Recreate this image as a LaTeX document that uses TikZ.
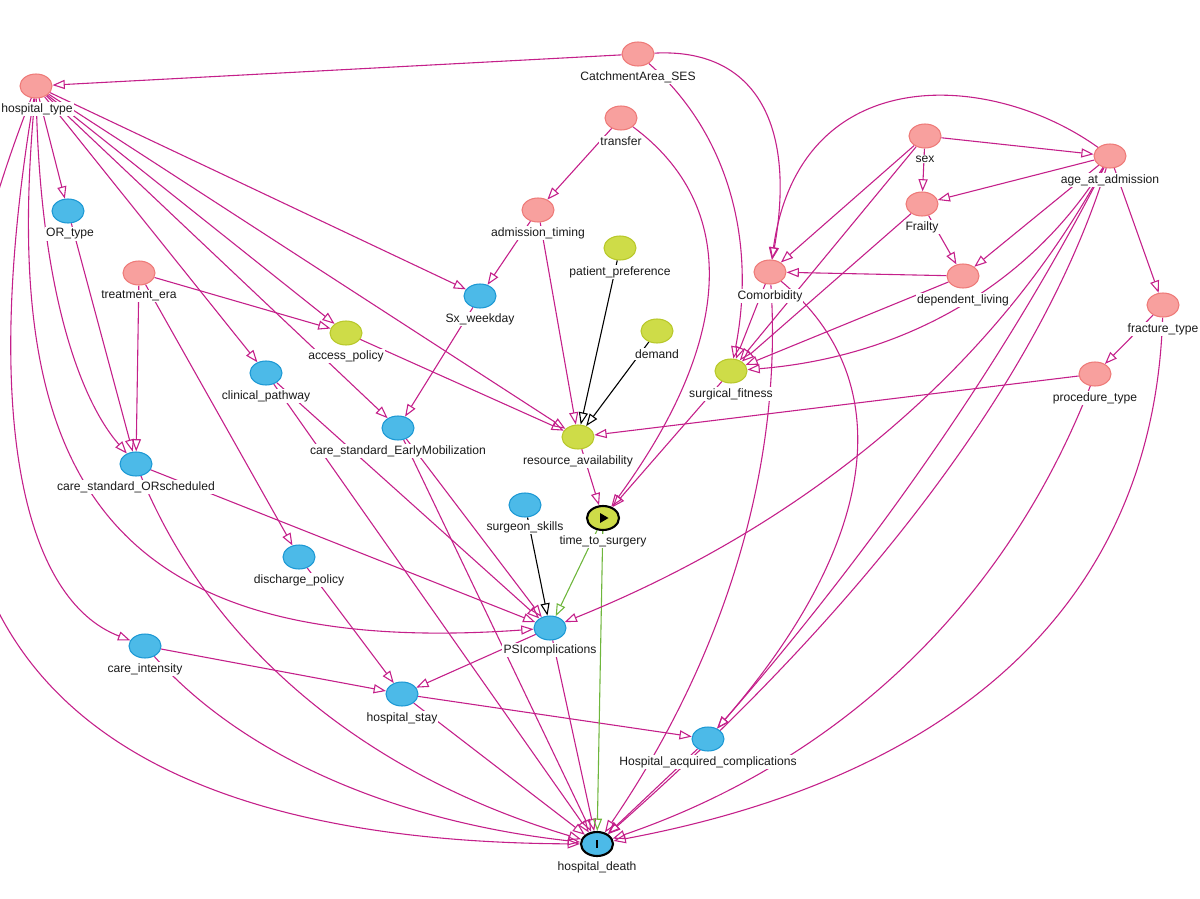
\documentclass[tikz,border=0pt]{standalone}
\usepackage{fontspec}
\setmainfont{Liberation Sans}
\usetikzlibrary{arrows.meta,shapes.geometric}
\definecolor{pinkfill}{RGB}{248,160,158}
\definecolor{pinkdraw}{RGB}{238,122,120}
\definecolor{bluefill}{RGB}{76,186,232}
\definecolor{bluedraw}{RGB}{28,152,212}
\definecolor{ygfill}{RGB}{206,220,72}
\definecolor{ygdraw}{RGB}{184,200,42}
\definecolor{edgemag}{RGB}{196,32,138}
\definecolor{edgegreen}{RGB}{110,182,60}
\definecolor{labtext}{RGB}{26,26,26}
\pgfdeclarelayer{edges}
\pgfsetlayers{edges,main}
\begin{document}
\begin{tikzpicture}[x=0.02cm,y=0.02cm,
  vnode/.style={ellipse,minimum width=0.64cm,minimum height=0.48cm,inner sep=0pt,line width=0.6pt},
  anc/.style={vnode,fill=pinkfill,draw=pinkdraw},
  med/.style={vnode,fill=bluefill,draw=bluedraw},
  oth/.style={vnode,fill=ygfill,draw=ygdraw},
  expo/.style={vnode,fill=ygfill,draw=black,line width=1.2pt},
  outc/.style={vnode,fill=bluefill,draw=black,line width=1.2pt},
  lab/.style={fill=white,inner sep=0.6pt,text=labtext,font=\fontsize{6.9}{8}\selectfont},
  e/.style={draw=edgemag,line width=0.62pt,-{Triangle[open,length=7pt,width=5.2pt]}},
  eb/.style={e,draw=black},
  eg/.style={e,draw=edgegreen},
]
\useasboundingbox (0,0) rectangle (1200,-899);

% nodes
\node[anc] (CA) at (638,-54) {};
\node[anc] (HT) at (36,-86) {};
\node[anc] (TR) at (621,-118) {};
\node[anc] (SEX) at (925,-136) {};
\node[anc] (AGE) at (1110,-156) {};
\node[anc] (FR) at (922,-204) {};
\node[med] (ORT) at (68,-211) {};
\node[anc] (AT) at (538,-210) {};
\node[oth] (PP) at (620,-248) {};
\node[anc] (DL) at (963,-276) {};
\node[anc] (CM) at (770,-272) {};
\node[anc] (TE) at (139,-273) {};
\node[med] (SW) at (480,-296) {};
\node[oth] (DE) at (657,-331) {};
\node[oth] (AP) at (346,-333) {};
\node[anc] (FT) at (1163,-305) {};
\node[oth] (SF) at (731,-371) {};
\node[med] (CP) at (266,-373) {};
\node[anc] (PT) at (1095,-374) {};
\node[med] (EM) at (398,-428) {};
\node[oth] (RA) at (578,-437) {};
\node[med] (OS) at (136,-464) {};
\node[med] (SS) at (525,-505) {};
\node[expo] (TTS) at (603,-518) {};
\node[med] (DP) at (299,-557) {};
\node[med] (PSI) at (550,-628) {};
\node[med] (CI) at (145,-646) {};
\node[med] (HS) at (402,-694) {};
\node[med] (HAC) at (708,-739) {};
\node[outc] (HD) at (597,-844) {};

% exposure / outcome marks
\fill[black] (600,-513) -- (600,-523) -- (608.5,-518) -- cycle;
\fill[black] (595.8,-840) rectangle (598.4,-848);

% labels
\node[lab] (lCA) at (638,-77) {CatchmentArea\_SES};
\node[lab] (lHT) at (37,-109) {hospital\_type};
\node[lab] (lTR) at (621,-141) {transfer};
\node[lab] (lSEX) at (925,-159) {sex};
\node[lab] (lAGE) at (1110,-180) {age\_at\_admission};
\node[lab] (lFR) at (922,-227) {Frailty};
\node[lab] (lORT) at (70,-234) {OR\_type};
\node[lab] (lAT) at (538,-233) {admission\_timing};
\node[lab] (lPP) at (620,-272) {patient\_preference};
\node[lab] (lDL) at (963,-300) {dependent\_living};
\node[lab] (lCM) at (770,-296) {Comorbidity};
\node[lab] (lTE) at (139,-296) {treatment\_era};
\node[lab] (lSW) at (480,-319) {Sx\_weekday};
\node[lab] (lDE) at (657,-354) {demand};
\node[lab] (lAP) at (346,-356) {access\_policy};
\node[lab] (lFT) at (1163,-329) {fracture\_type};
\node[lab] (lSF) at (731,-394) {surgical\_fitness};
\node[lab] (lCP) at (266,-396) {clinical\_pathway};
\node[lab] (lPT) at (1095,-398) {procedure\_type};
\node[lab] (lEM) at (398,-451) {care\_standard\_EarlyMobilization};
\node[lab] (lRA) at (578,-461) {resource\_availability};
\node[lab] (lOS) at (136,-487) {care\_standard\_ORscheduled};
\node[lab] (lSS) at (525,-527) {surgeon\_skills};
\node[lab] (lTTS) at (603,-541) {time\_to\_surgery};
\node[lab] (lDP) at (299,-580) {discharge\_policy};
\node[lab] (lPSI) at (550,-650) {PSIcomplications};
\node[lab] (lCI) at (145,-669) {care\_intensity};
\node[lab] (lHS) at (402,-718) {hospital\_stay};
\node[lab] (lHAC) at (708,-762) {Hospital\_acquired\_complications};
\node[lab] (lHD) at (597,-867) {hospital\_death};

\begin{pgfonlayer}{edges}
% straight magenta edges
\draw[e] (CA) -- (HT);
\draw[e] (HT) -- (ORT);
\draw[e] (HT) -- (SW);
\draw[e] (HT) -- (AP);
\draw[e] (HT) -- (RA);
\draw[e] (HT) -- (EM);
\draw[e] (HT) -- (CP);
\draw[e] (TR) -- (AT);
\draw[e] (AT) -- (SW);
\draw[e] (AT) -- (RA);
\draw[e] (TE) -- (AP);
\draw[e] (TE) -- (OS);
\draw[e] (TE) -- (DP);
\draw[e] (ORT) -- (OS);
\draw[e] (AP) -- (RA);
\draw[e] (SW) -- (EM);
\draw[e] (PT) -- (RA);
\draw[e] (RA) -- (TTS);
\draw[e] (SF) -- (TTS);
\draw[e] (OS) -- (PSI);
\draw[e] (CP) -- (PSI);
\draw[e] (CP) -- (HD);
\draw[e] (EM) -- (PSI);
\draw[e] (EM) -- (HD);
\draw[e] (DP) -- (HS);
\draw[e] (PSI) -- (HS);
\draw[e] (PSI) -- (HD);
\draw[e] (CI) -- (HS);
\draw[e] (HS) -- (HAC);
\draw[e] (HS) -- (HD);
\draw[e] (HAC) -- (HD);
\draw[e] (CM) -- (SF);
\draw[e] (SEX) -- (AGE);
\draw[e] (SEX) -- (FR);
\draw[e] (SEX) -- (CM);
\draw[e] (SEX) -- (SF);
\draw[e] (AGE) -- (FR);
\draw[e] (AGE) -- (DL);
\draw[e] (AGE) -- (FT);
\draw[e] (FR) -- (DL);
\draw[e] (FR) -- (SF);
\draw[e] (DL) -- (CM);
\draw[e] (DL) -- (SF);
\draw[e] (FT) -- (PT);
% black edges
\draw[eb] (PP) -- (RA);
\draw[eb] (DE) -- (RA);
\draw[eb] (SS) -- (PSI);
% green edges
\draw[eg] (TTS) -- (PSI);
\draw[eg] (TTS) -- (HD);
% curved magenta edges
\draw[e] (CA) .. controls (753,-48) and (797,-121) .. (CM);
\draw[e] (CA) .. controls (726,-131) and (757,-237) .. (SF);
\draw[e] (HT) .. controls (40,-290) and (80,-400) .. (OS);
\draw[e] (HT) .. controls (-20,-420) and (25,-600) .. (CI);
\draw[e] (HT) .. controls (0,-470) and (100,-660) .. (PSI);
\draw[e] (HT) .. controls (-161,-589) and (26,-841) .. (HD);
\draw[e] (TR) .. controls (740,-206) and (734,-339) .. (TTS);
\draw[e] (OS) .. controls (212,-648) and (366,-775) .. (HD);
\draw[e] (CI) .. controls (242,-755) and (392,-821) .. (HD);
\draw[e] (CM) .. controls (783,-464) and (726,-655) .. (HD);
\draw[e] (CM) .. controls (900,-380) and (880,-540) .. (HAC);
\draw[e] (AGE) .. controls (990,-70) and (800,-60) .. (CM);
\draw[e] (AGE) .. controls (1030,-285) and (904,-357) .. (SF);
\draw[e] (AGE) .. controls (997,-365) and (810,-523) .. (PSI);
\draw[e] (AGE) .. controls (1010,-352) and (876,-546) .. (HAC);
\draw[e] (AGE) .. controls (1043,-372) and (872,-601) .. (HD);
\draw[e] (PT) .. controls (1005,-605) and (839,-761) .. (HD);
\draw[e] (FT) .. controls (1154,-595) and (966,-775) .. (HD);
\end{pgfonlayer}
\end{tikzpicture}
\end{document}
